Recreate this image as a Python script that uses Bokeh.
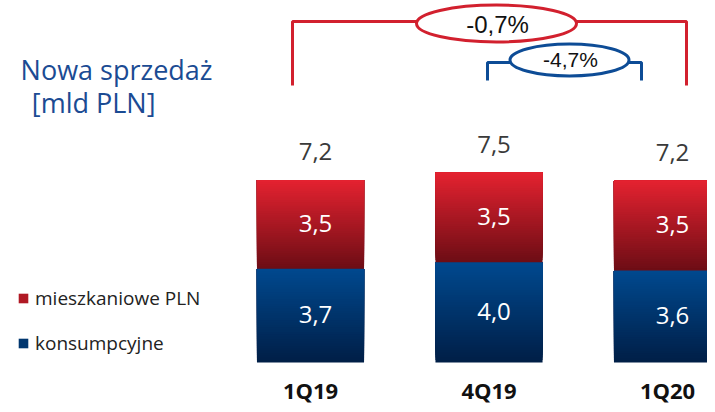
from bokeh.plotting import figure
from bokeh.models import ColumnDataSource, Range1d, Legend, LegendItem
from bokeh.core.properties import value
from bokeh.embed import file_html
from bokeh.resources import INLINE

# ---------------- data ----------------
categories = ["1Q19", "4Q19", "1Q20"]
konsumpcyjne = [3.7, 3.95, 3.63]
mieszkaniowe = [3.5, 3.55, 3.55]
konsumpcyjne_labels = ["3,7", "4,0", "3,6"]
mieszkaniowe_labels = ["3,5", "3,5", "3,5"]
total_labels = ["7,2", "7,5", "7,2"]
series_names = ["mieszkaniowe PLN", "konsumpcyjne"]
comparison_labels = ["-0,7%", "-4,7%"]
title_lines = ["Nowa sprzedaż", "[mld PLN]"]

# ---------------- layout / style ----------------
W, H = 707, 404
SX = 178.5      # px per category step
SY = 25.35      # px per unit
X0 = 310        # canvas px of first category centre
Y0 = 362        # canvas px of value zero
BAR_W = 0.6
N = 40          # gradient steps
TS = -9         # text baseline correction (px)

RED_TOP, RED_BOT = (229, 34, 48), (108, 13, 21)
BLUE_TOP, BLUE_BOT = (0, 73, 143), (0, 30, 70)
RED_LINE = "#d2202e"
BLUE_LINE = "#0d4c96"
TITLE_COLOR = "#1b4b93"
FONT = value("Open Sans")
FONT2 = value("Liberation Sans")


def px_x(cx):
    return (cx - X0) / SX


def px_y(cy):
    return (Y0 - cy) / SY


def mix(c_top, c_bot, t):
    r = [round(c_bot[i] + (c_top[i] - c_bot[i]) * t) for i in range(3)]
    return "#%02x%02x%02x" % tuple(r)


p = figure(width=W, height=H, output_backend="svg", toolbar_location=None,
           x_axis_type=None, y_axis_type=None,
           x_range=Range1d(-X0 / SX, (W - X0) / SX),
           y_range=Range1d(-(H - Y0) / SY, Y0 / SY),
           min_border=0, outline_line_color=None,
           background_fill_color="white", border_fill_color="white")
p.grid.visible = False


def gradient_source(bases, heights, c_top, c_bot):
    d = dict(left=[], right=[], bottom=[], top=[], color=[])
    for i, (b, h) in enumerate(zip(bases, heights)):
        for k in range(N):
            d["left"].append(i - BAR_W / 2)
            d["right"].append(i + BAR_W / 2)
            d["bottom"].append(b + h * k / N)
            d["top"].append(b + h)
            d["color"].append(mix(c_top, c_bot, (k + 0.5) / N))
    return ColumnDataSource(d)


idx = list(range(len(categories)))
zeros = [0] * len(categories)
blue_src = gradient_source(zeros, konsumpcyjne, BLUE_TOP, BLUE_BOT)
red_src = gradient_source(konsumpcyjne, mieszkaniowe, RED_TOP, RED_BOT)

blue_r = p.quad(left="left", right="right", bottom="bottom", top="top",
                fill_color="color", line_color=None, source=blue_src)
red_r = p.quad(left="left", right="right", bottom="bottom", top="top",
               fill_color="color", line_color=None, source=red_src)

# value labels
blue_mid = [v / 2 for v in konsumpcyjne]
red_mid = [a + b / 2 for a, b in zip(konsumpcyjne, mieszkaniowe)]
totals = [a + b for a, b in zip(konsumpcyjne, mieszkaniowe)]
p.text(x=idx, y=blue_mid, text=konsumpcyjne_labels, text_align="center",
       text_baseline="alphabetic", x_offset=5, y_offset=8 + TS,
       text_font=FONT, text_font_size="24px", text_color="white")
p.text(x=idx, y=red_mid, text=mieszkaniowe_labels, text_align="center",
       text_baseline="alphabetic", x_offset=5, y_offset=8 + TS,
       text_font=FONT, text_font_size="24px", text_color="white")
p.text(x=idx, y=totals, text=total_labels, text_align="center",
       text_baseline="alphabetic", x_offset=5, y_offset=-19 + TS,
       text_font=FONT, text_font_size="24px", text_color="#3a3a3a")

# category labels
p.text(x=idx, y=zeros, text=categories, text_align="center",
       text_baseline="alphabetic", y_offset=36 + TS,
       text_font=FONT, text_font_size="22px", text_font_style="bold",
       text_color="#111111")

# comparison brackets
brackets = [
    dict(xl=px_x(292), xr=px_x(686), yh=px_y(21), yv=px_y(85),
         ex=px_x(496), ey=px_y(23), ew=160 / SX, eh=37 / SY,
         tx=px_x(497), ty=px_y(33), size="24px", color=RED_LINE),
    dict(xl=px_x(487), xr=px_x(641), yh=px_y(62), yv=px_y(80),
         ex=px_x(569), ey=px_y(59.5), ew=119 / SX, eh=32 / SY,
         tx=px_x(570), ty=px_y(68), size="21px", color=BLUE_LINE),
]
for b, lab in zip(brackets, comparison_labels):
    p.line(x=[b["xl"], b["xl"], b["xr"], b["xr"]],
           y=[b["yv"], b["yh"], b["yh"], b["yv"]],
           line_color=b["color"], line_width=3)
    p.ellipse(x=[b["ex"]], y=[b["ey"]], width=[b["ew"]], height=[b["eh"]],
              fill_color="white", line_color=b["color"], line_width=3)
    p.text(x=[b["tx"]], y=[b["ty"]], text=[lab], text_align="center",
           text_baseline="alphabetic", y_offset=TS, text_font=FONT2,
           text_font_size=b["size"], text_color="#111111")

# title
p.text(x=[px_x(212), px_x(155)], y=[px_y(78), px_y(111)], text=title_lines,
       text_align="right", text_baseline="alphabetic", y_offset=TS,
       text_font=FONT, text_font_size="27px", text_color=TITLE_COLOR)

# legend
mid_k = int(N * 0.55)
legend = Legend(items=[
    LegendItem(label=series_names[0], renderers=[red_r], index=mid_k),
    LegendItem(label=series_names[1], renderers=[blue_r], index=mid_k),
], location=(17, 48), orientation="vertical", glyph_width=12, glyph_height=12,
    label_standoff=6, spacing=19, padding=0, margin=0,
    border_line_color=None, background_fill_alpha=0,
    label_text_font="Open Sans", label_text_font_size="19px",
    label_text_color="#222222")
p.add_layout(legend, "center")

open("out.html", "w").write(file_html(p, INLINE))
